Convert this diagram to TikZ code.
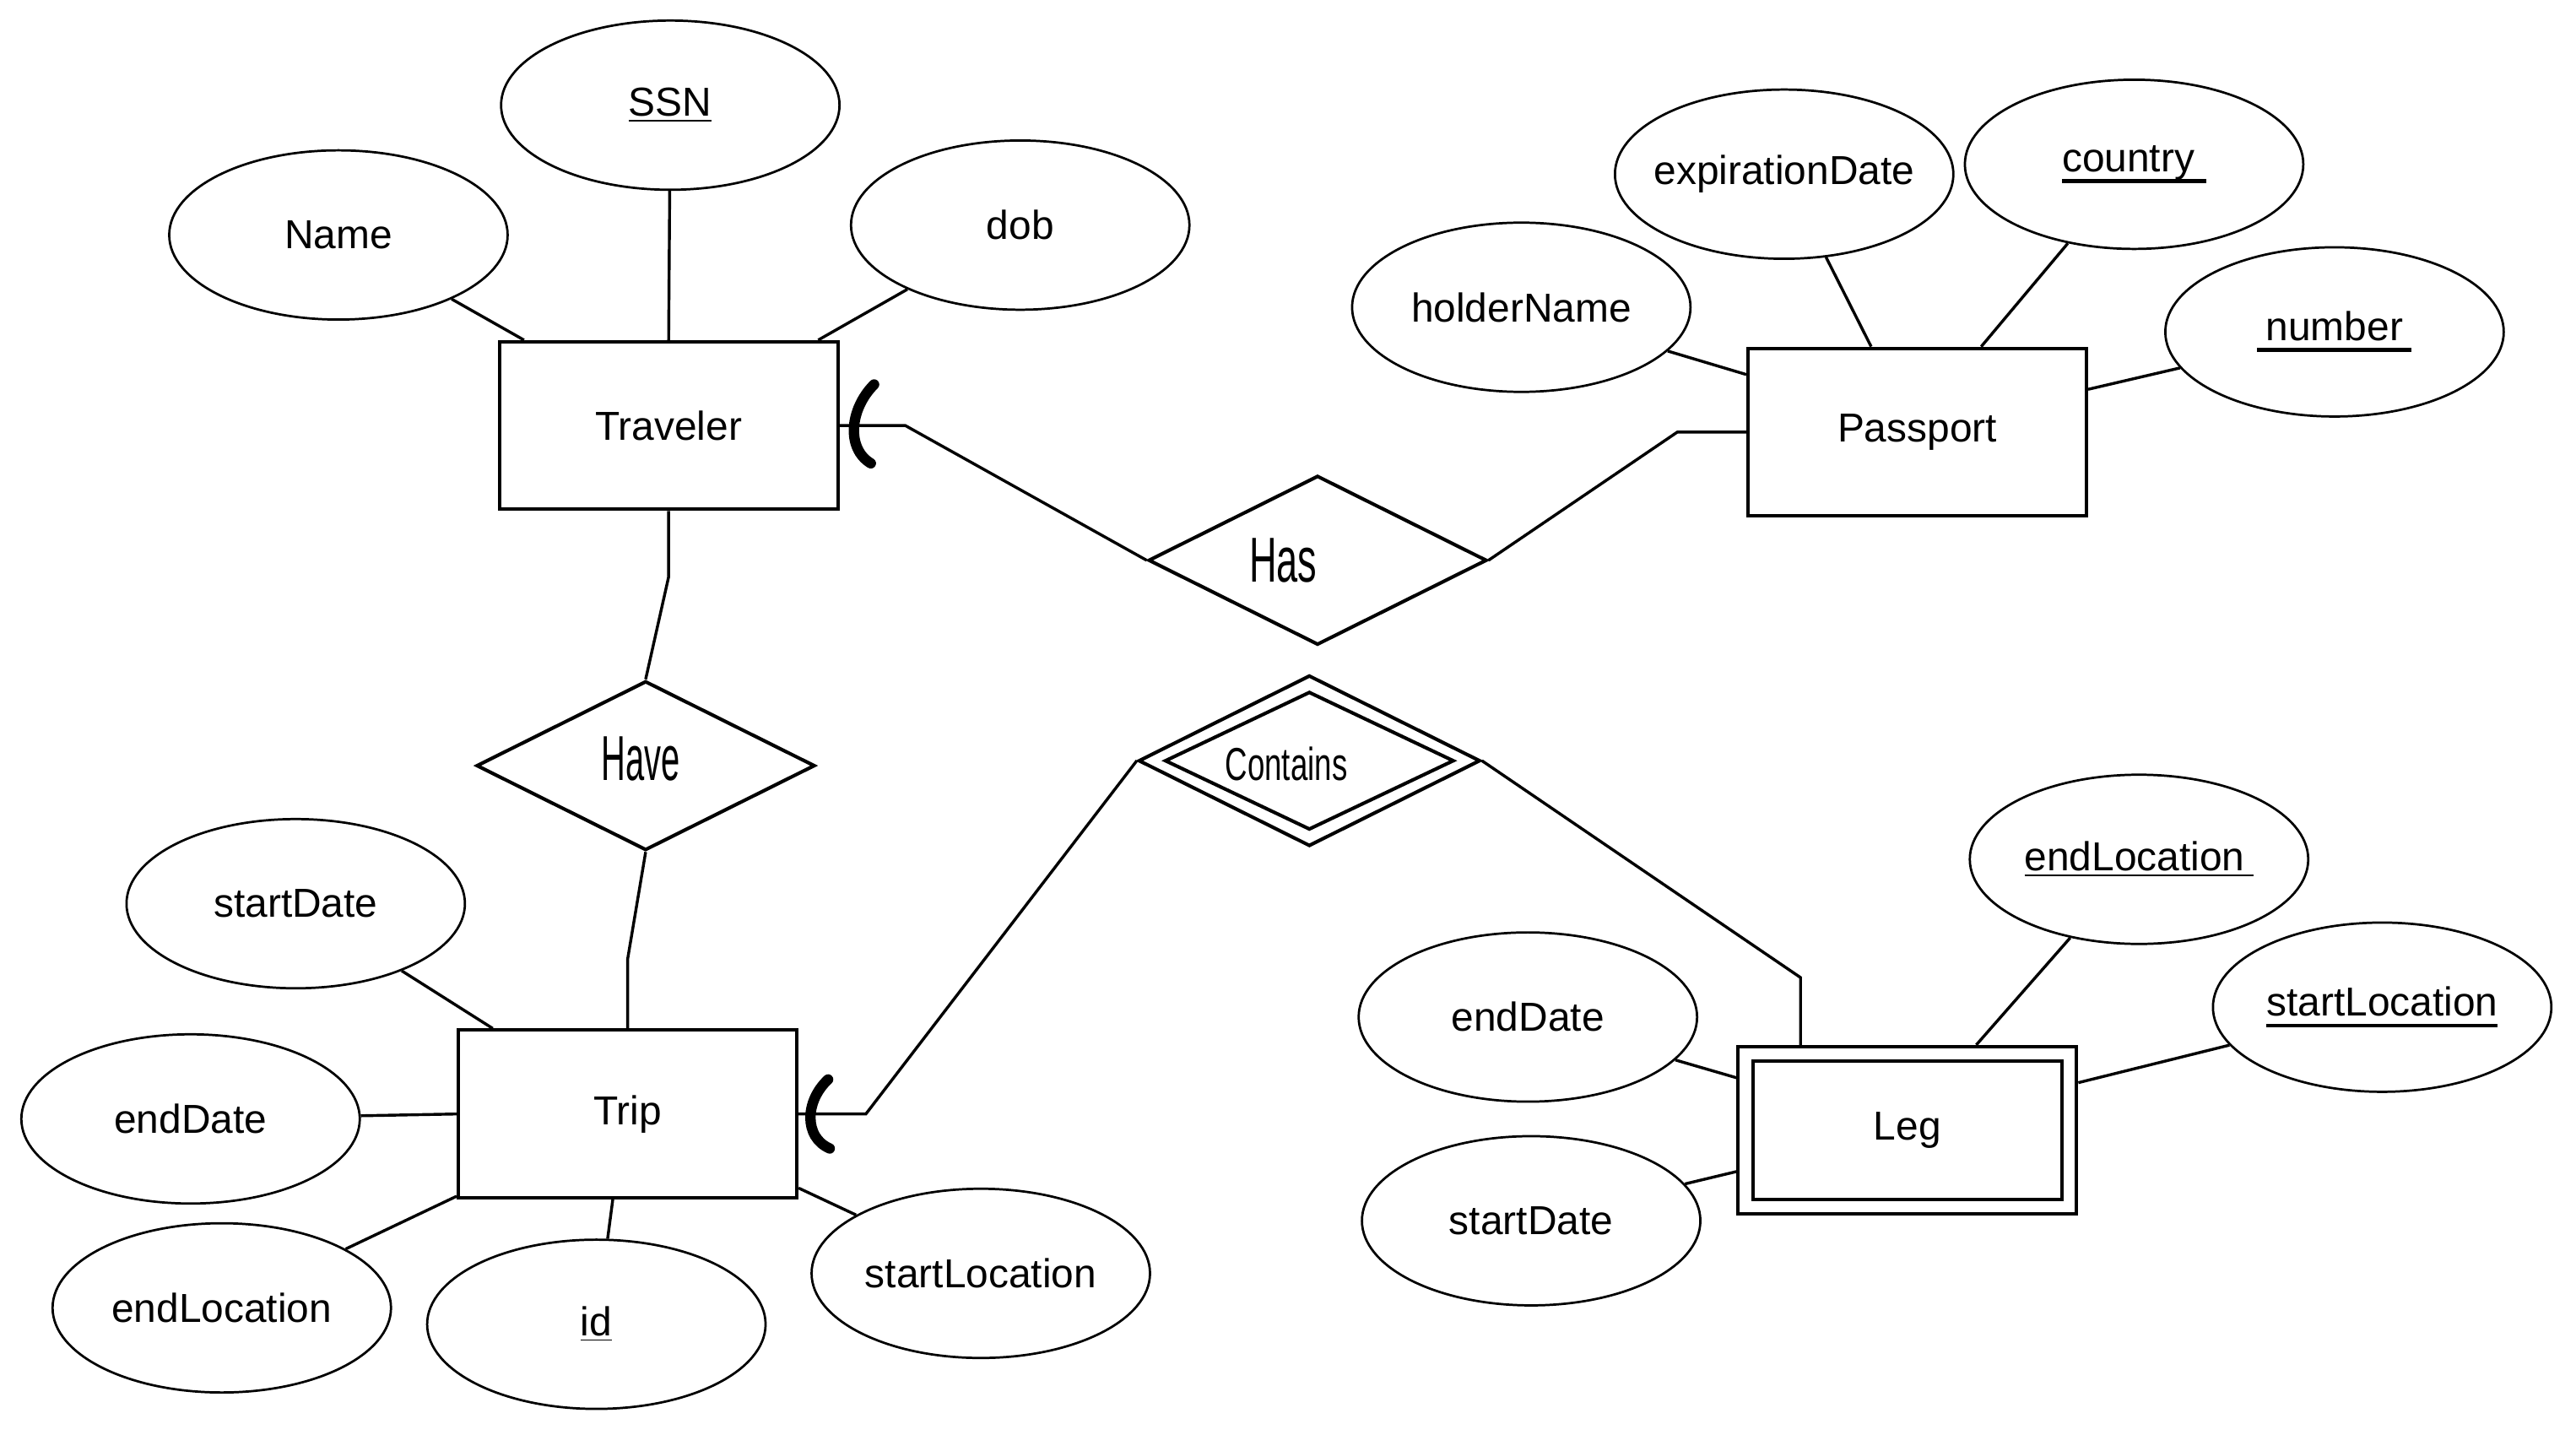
\documentclass[tikz,border=0pt]{standalone}
\usepackage{fontspec}
\setmainfont{Liberation Sans}
\usetikzlibrary{shapes.geometric,calc}
\newcommand\thul[2][1.6pt]{\leavevmode\setbox0\hbox{#2}\rlap{\rule[-4pt]{\wd0}{#1}}\box0}
\begin{document}
\begin{tikzpicture}[x=0.02cm,y=-0.02cm,
  ent/.style={draw,line width=1.2pt,minimum width=206*0.02cm,minimum height=102*0.02cm,inner sep=0pt,font=\fontsize{14pt}{17pt}\selectfont},
  attr/.style={draw,ellipse,line width=0.8pt,minimum width=206*0.02cm,minimum height=103*0.02cm,inner sep=0pt,font=\fontsize{14pt}{17pt}\selectfont},
  rel/.style={draw,diamond,line width=1.2pt,minimum width=206*0.02cm,minimum height=103*0.02cm,inner sep=0pt},
  conn/.style={line width=1pt},
  hand/.style={inner sep=0pt},
  cardmark/.style={line width=3.6pt,line cap=round}]
\useasboundingbox (0,0) rectangle (1568,873);
% entities
\node[ent] (trav) at (407,259) {Traveler};
\node[ent] (pass) at (1167,263) {Passport};
\node[ent] (trip) at (382,678) {Trip};
\node[ent] (leg) at (1161,688) {Leg};
\draw[line width=1.2pt] ($(leg.north west)+(10,10)$) rectangle ($(leg.south east)+(-10,-10)$);
% relationships
\node[rel] (has) at (802,341) {};
\node[hand,xscale=0.6,font=\fontsize{22pt}{24pt}\selectfont] (hastxt) at (781,341) {Has};
\node[rel] (have) at (393,466) {};
\node[hand,xscale=0.53,font=\fontsize{22pt}{24pt}\selectfont] (havetxt) at (390,462) {Have};
\node[rel,minimum width=208*0.02cm,minimum height=104*0.02cm] (cont) at (797,463) {};
\node[rel,minimum width=176*0.02cm,minimum height=84*0.02cm] (contin) at (797,463) {};
\node[hand,xscale=0.67,font=\fontsize{16pt}{18pt}\selectfont] (conttxt) at (783,465) {Contains};
% attributes
\node[attr] (ssn) at (408,64) {\underline{SSN}};
\node[attr] (name) at (206,143) {Name};
\node[attr] (dob) at (621,137) {dob};
\node[attr] (expd) at (1086,106) {\makebox[0pt]{expirationDate}};
\node[attr] (country) at (1299,100) {\thul{country\kern4pt}};
\node[attr] (holder) at (926,187) {\makebox[0pt]{holderName}};
\node[attr] (number) at (1421,202) {\thul{\kern3pt number\kern3pt}};
\node[attr] (tsd) at (180,550) {startDate};
\node[attr] (ted) at (116,681) {endDate};
\node[attr] (tel) at (135,796) {endLocation};
\node[attr] (tid) at (363,806) {\underline{id}};
\node[attr] (tsl) at (597,775) {\makebox[0pt]{startLocation}};
\node[attr] (lel) at (1302,523) {\underline{endLocation\kern3pt}};
\node[attr] (lsl) at (1450,613) {\makebox[0pt]{\thul[1.4pt]{startLocation}}};
\node[attr] (led) at (930,619) {endDate};
\node[attr] (lsd) at (932,743) {startDate};
% attribute connectors
\draw[conn] (name) -- ($(trav.north west)+(16,0)$);
\draw[conn] (ssn) -- (trav.north);
\draw[conn] (dob) -- ($(trav.north east)+(-13,0)$);
\draw[conn] (holder) -- ($(pass.north west)+(0,17)$);
\draw[conn] (expd) -- ($(pass.north west)+(76,0)$);
\draw[conn] (country) -- ($(pass.north west)+(143,0)$);
\draw[conn] (number) -- ($(pass.north east)+(0,26)$);
\draw[conn] (tsd) -- ($(trip.north west)+(22,0)$);
\draw[conn] (ted) -- (trip.west);
\draw[conn] (tel) -- ($(trip.south west)+(0,-2)$);
\draw[conn] (tid) -- ($(trip.south)+(-9,0)$);
\draw[conn] (tsl) -- ($(trip.south east)+(0,-7)$);
\draw[conn] (led) -- ($(leg.north west)+(0,20)$);
\draw[conn] (lsd) -- ($(leg.south west)+(0,-27)$);
\draw[conn] (lel) -- ($(leg.north west)+(146,0)$);
\draw[conn] (lsl) -- ($(leg.north east)+(0,23)$);
% relationship connectors
\draw[conn] (trav.east) -- ++(40,0) -- (has.west);
\draw[conn] (has.east) -- ($(pass.west)+(-42,0)$) -- (pass.west);
\draw[conn] (trav.south) -- ++(0,40) -- (have.north);
\draw[conn] (have.south) -- ($(trip.north)+(0,-42)$) -- (trip.north);
\draw[conn] (trip.east) -- ++(41,0) -- (cont.west);
\draw[conn] (cont.east) -- ($(leg.north west)+(39,-41)$) -- ($(leg.north west)+(39,0)$);
% cardinality marks
\draw[cardmark] ($(trav.east)+(21,-25)$) .. controls ($(trav.east)+(6,-10)$) and ($(trav.east)+(4,14)$) .. ($(trav.east)+(19,23)$);
\draw[cardmark] ($(trip.east)+(18,-21)$) .. controls ($(trip.east)+(4,-8)$) and ($(trip.east)+(3,14)$) .. ($(trip.east)+(19,21)$);
\end{tikzpicture}
\end{document}
